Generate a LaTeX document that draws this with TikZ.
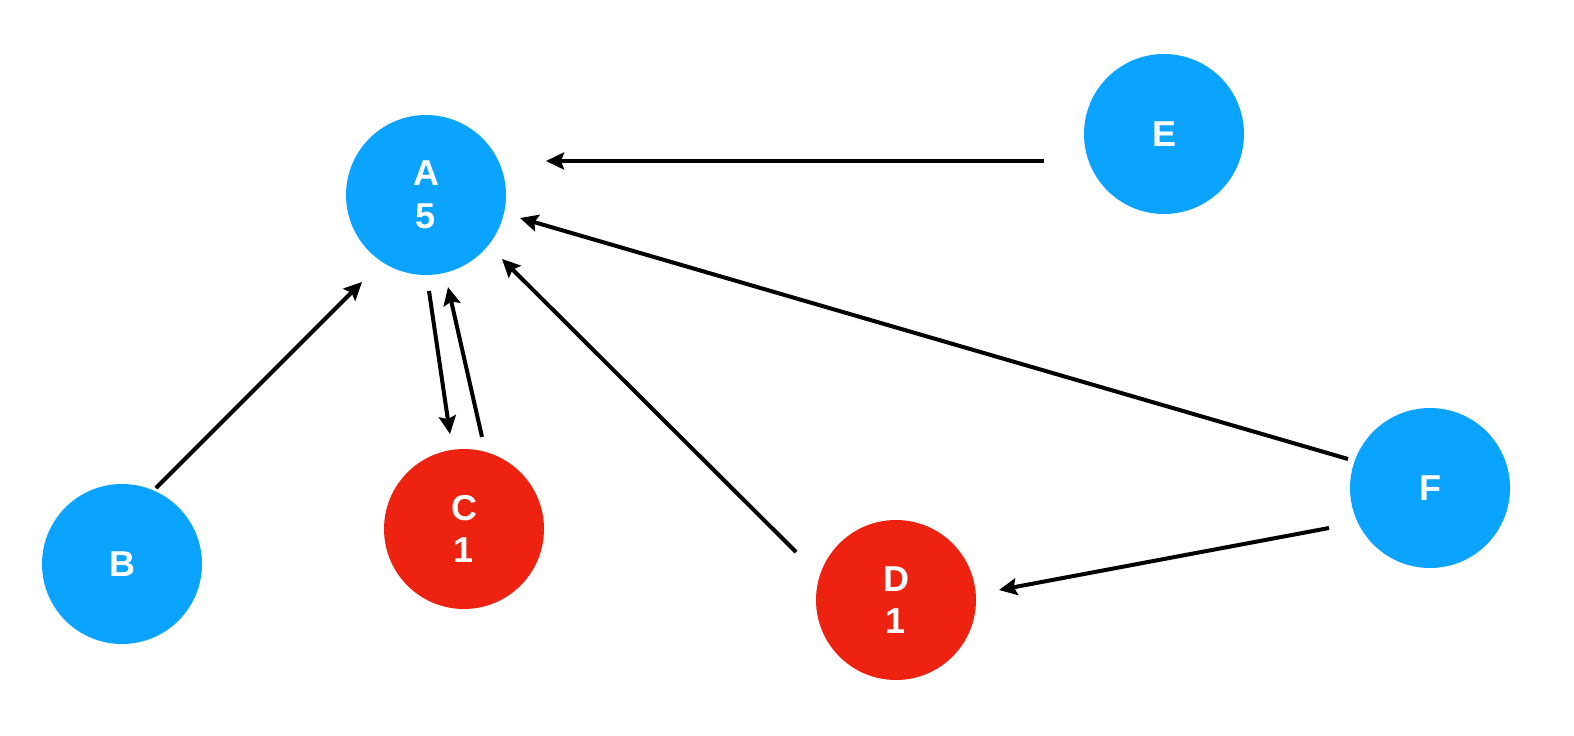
\documentclass[tikz,border=0pt]{standalone}
\usepackage{fontspec}
\setmainfont{Liberation Sans}
\usetikzlibrary{arrows.meta,calc}
\definecolor{nodeblue}{RGB}{10,163,255}
\definecolor{nodered}{RGB}{238,34,17}

\begin{document}
\begin{tikzpicture}[x=1pt,y=-1pt,
    vertex/.style={circle, minimum size=160pt, inner sep=0pt, text=white,
      font=\bfseries\fontsize{36}{42.5}\selectfont, align=center},
    bluevertex/.style={vertex, fill=nodeblue},
    redvertex/.style={vertex, fill=nodered},
    edge/.style={line width=4pt, -{Stealth[length=18pt,width=17pt,inset=3pt]}}]
    \useasboundingbox (0,0) rectangle (1574,736);

    % nodes
    \node[bluevertex] (A) at (426,195) {A\\5};
    \node[bluevertex] (B) at (122,564) {B};
    \node[redvertex]  (C) at (464,529) {C\\1};
    \node[redvertex]  (D) at (896,600) {D\\1};
    \node[bluevertex] (E) at (1164,134) {E};
    \node[bluevertex] (F) at (1430,488) {F};

    % edges into A
    \draw[edge] ($(E)+(-120,27)$) -- ($(A)+(120,-34)$);
    \draw[edge] ($(F)+(-82,-29)$) -- ($(A)+(94,23)$);
    \draw[edge] ($(D)+(-100,-48)$) -- ($(A)+(76,64)$);
    \draw[edge] ($(B)+(34,-76)$) -- ($(A)+(-64,87)$);
    \draw[edge] ($(C)+(18,-92)$) -- ($(A)+(22,92)$);

    % edges out of A and F
    \draw[edge] ($(A)+(3,96)$) -- ($(C)+(-14,-95)$);
    \draw[edge] ($(F)+(-101,40)$) -- ($(D)+(103,-10)$);
\end{tikzpicture}
\end{document}
